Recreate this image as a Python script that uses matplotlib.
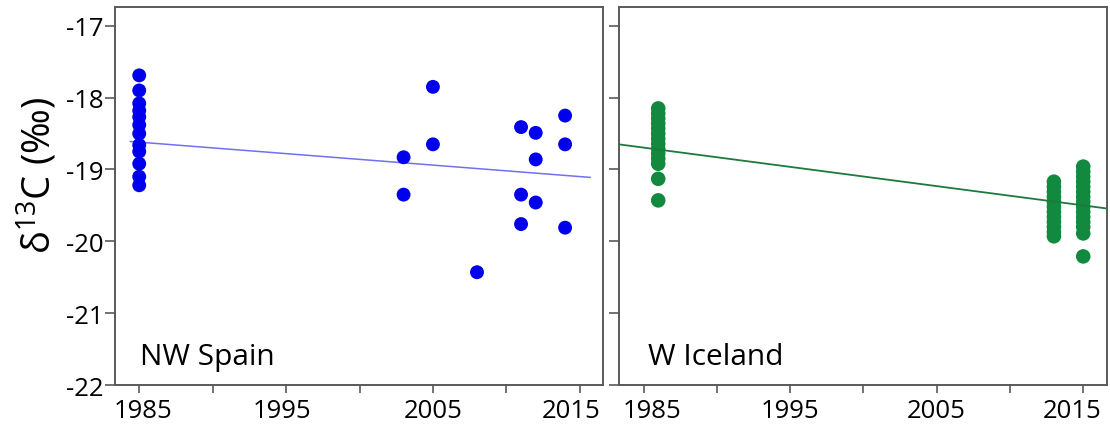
import matplotlib.pyplot as plt
import matplotlib.transforms as mtransforms
from matplotlib.ticker import MultipleLocator

plt.rcParams['font.family'] = ['Open Sans', 'DejaVu Sans']
plt.rcParams['mathtext.default'] = 'regular'

# --------- data ---------------------------------

# NW Spain (blue)
spain_years = [1985] * 12 + [2003, 2003, 2005, 2005, 2008,
                             2011, 2011, 2011, 2012, 2012, 2012, 2014, 2014, 2014]
spain_d13c = [-17.69, -17.90, -18.08, -18.18, -18.27, -18.38, -18.50, -18.66,
              -18.75, -18.92, -19.10, -19.22,
              -18.83, -19.35, -17.85, -18.65, -20.43,
              -18.41, -19.35, -19.76, -18.49, -18.86, -19.46,
              -18.25, -18.65, -19.81]
spain_trend_years = [1984.4, 2015.7]
spain_trend_vals = [-18.61, -19.11]

# W Iceland (green)
iceland_years = [1986] * 14 + [2013] * 12 + [2015] * 15
iceland_d13c = [-18.15, -18.22, -18.29, -18.36, -18.43, -18.50, -18.57, -18.64,
                -18.71, -18.78, -18.85, -18.92, -19.13, -19.43,
                -19.17, -19.24, -19.31, -19.38, -19.45, -19.52, -19.59, -19.66,
                -19.73, -19.80, -19.87, -19.93,
                -18.96, -19.03, -19.10, -19.17, -19.24, -19.31, -19.38, -19.45,
                -19.52, -19.59, -19.66, -19.73, -19.80, -19.89, -20.21]
iceland_trend_years = [1983.3, 2016.5]
iceland_trend_vals = [-18.65, -19.54]

year_ticks = [1985, 1995, 2005, 2015]
d13c_ticks = [-22, -21, -20, -19, -18, -17]

# --------- figure ----------

fig = plt.figure(figsize=(11.1, 4.27), dpi=100)
ax1 = fig.add_axes([0.1036, 0.096, 0.4399, 0.885])
ax2 = fig.add_axes([0.558, 0.096, 0.439, 0.885])

spine_col = '#5a5a5a'

def style(ax, show_ylabels, shifts):
    ax.set_xlim(1983.35, 2016.6)
    ax.set_ylim(-22, -16.74)
    ax.set_xticks(year_ticks)
    ax.xaxis.set_minor_locator(MultipleLocator(5))
    ax.set_yticks(d13c_ticks)
    for s in ax.spines.values():
        s.set_color(spine_col)
        s.set_linewidth(1.4)
    ax.tick_params(axis='both', which='both', direction='out', color=spine_col,
                   width=1.2, labelsize=18.5, labelcolor='black')
    ax.tick_params(axis='x', which='both', length=6, pad=3)
    ax.tick_params(axis='y', which='both', length=7, pad=1)
    ax.set_yticklabels([str(t) for t in d13c_ticks] if show_ylabels else [])
    # nudge year labels sideways (points) like in the original
    for lab, dx in zip(ax.get_xticklabels(), shifts):
        off = mtransforms.ScaledTranslation(dx / 72, 0, fig.dpi_scale_trans)
        lab.set_transform(lab.get_transform() + off)

style(ax1, True, [3, -3, 0, -6])
style(ax2, False, [6, 0, 0, -8])

ax1.plot(spain_trend_years, spain_trend_vals, color='#7070f0', lw=1.1, zorder=2)
ax1.scatter(spain_years, spain_d13c, s=100, color='#0000ee', edgecolors='none', zorder=3)

ax2.plot(iceland_trend_years, iceland_trend_vals, color='#1d7a3c', lw=1.3, zorder=3)
ax2.scatter(iceland_years, iceland_d13c, s=110, color='#12893f', edgecolors='none', zorder=2)

ax1.text(0.051, 0.056, 'NW Spain', transform=ax1.transAxes, fontsize=21.5,
         ha='left', va='baseline')
ax2.text(0.059, 0.056, 'W Iceland', transform=ax2.transAxes, fontsize=21.5,
         ha='left', va='baseline')

fig.text(38 / 1110, 1 - 176 / 427, r'δ$^{13}$C (‰)', rotation=90, fontsize=27.5,
         ha='center', va='center')

fig.savefig('out.png', dpi=100)
